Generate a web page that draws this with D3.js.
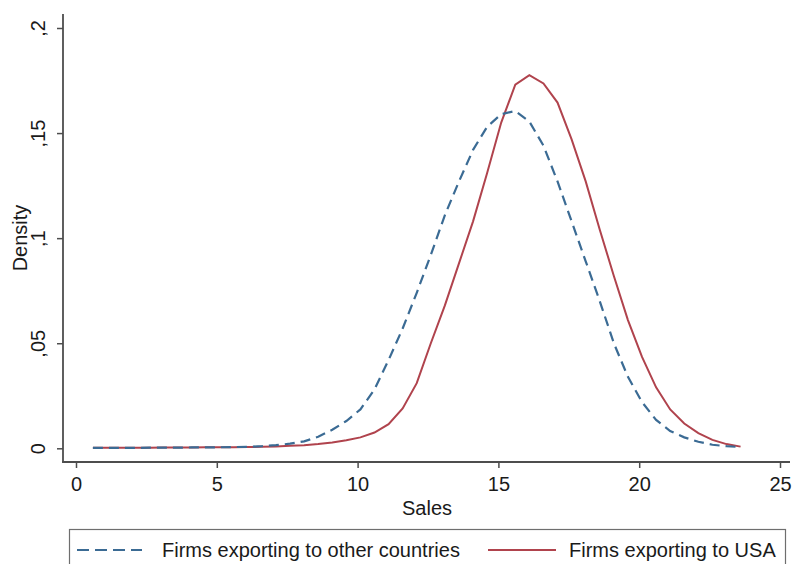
<!DOCTYPE html>
<html>
<head>
<meta charset="utf-8">
<script src="https://cdn.jsdelivr.net/npm/d3@7"></script>
<style>
  body { margin: 0; background: #fff; }
  svg { display: block; font-family: "Liberation Sans", Arial, sans-serif; }
</style>
</head>
<body>
<script>
// kernel density grid (sales) and the two estimated densities
var sales = [0.6, 1.1, 1.6, 2.1, 2.6, 3.1, 3.6, 4.1, 4.6, 5.1, 5.6, 6.1, 6.6, 7.1, 7.6, 8.1,
  8.6, 9.1, 9.6, 10.1, 10.6, 11.1, 11.6, 12.1, 12.6, 13.1, 13.6, 14.1, 14.6, 15.1, 15.6, 16.1,
  16.6, 17.1, 17.6, 18.1, 18.6, 19.1, 19.6, 20.1, 20.6, 21.1, 21.6, 22.1, 22.6, 23.1, 23.6];

var otherCountries = [0.0002, 0.0002, 0.0002, 0.0002, 0.0003, 0.0003, 0.0003, 0.0004, 0.0004, 0.0005,
  0.0006, 0.0007, 0.0010, 0.0015, 0.0022, 0.0033, 0.0055, 0.0088, 0.0130, 0.0185, 0.0280, 0.0420,
  0.0570, 0.0740, 0.0920, 0.1110, 0.1270, 0.1420, 0.1530, 0.1590, 0.1605, 0.1555, 0.1440, 0.1270,
  0.1080, 0.0890, 0.0700, 0.0500, 0.0340, 0.0220, 0.0135, 0.0082, 0.0052, 0.0031, 0.0017, 0.0010, 0.0006];

var usa = [0.0003, 0.0003, 0.0003, 0.0003, 0.0003, 0.0004, 0.0004, 0.0004, 0.0005, 0.0005,
  0.0005, 0.0006, 0.0007, 0.0009, 0.0012, 0.0015, 0.0020, 0.0028, 0.0038, 0.0052, 0.0075, 0.0115,
  0.0190, 0.0310, 0.0500, 0.0680, 0.0880, 0.1080, 0.1310, 0.1550, 0.1730, 0.1776, 0.1736, 0.1645,
  0.1470, 0.1270, 0.1040, 0.0820, 0.0610, 0.0435, 0.0290, 0.0185, 0.0118, 0.0072, 0.0040, 0.0020, 0.0008];

var xTicks = [0, 5, 10, 15, 20, 25];
var yTicks = [0, 0.05, 0.1, 0.15, 0.2];
var yTickLabels = ["0", ",05", ",1", ",15", ",2"];

var seriesNames = ["Firms exporting to other countries", "Firms exporting to USA"];

var W = 792, H = 564;
var axisX = 63, axisY = 462;

var x = d3.scaleLinear().domain([0, 25]).range([76, 780]);
var y = d3.scaleLinear().domain([0, 0.2]).range([448.3, 28]);

var svg = d3.select("body").append("svg")
    .attr("width", W)
    .attr("height", H);

var axisColor = "#4d4d4d";
var blue = "#3b6b94", red = "#b0434d";

// x axis
var xg = svg.append("g")
    .attr("transform", "translate(0," + axisY + ")")
    .call(d3.axisBottom(x).tickValues(xTicks).tickSize(6).tickSizeOuter(0).tickPadding(8));
xg.select(".domain").remove();
xg.selectAll(".tick line").attr("stroke", axisColor).attr("stroke-width", 1.5);
xg.selectAll(".tick text")
    .attr("font-size", 20)
    .attr("fill", "#1a1a1a")
    .attr("dy", 0)
    .attr("y", 29);

// y axis
var yg = svg.append("g")
    .attr("transform", "translate(" + axisX + ",0)")
    .call(d3.axisLeft(y).tickValues(yTicks).tickSize(6).tickSizeOuter(0)
      .tickFormat(function(d, i) { return yTickLabels[i]; }));
yg.select(".domain").remove();
yg.selectAll(".tick line").attr("stroke", axisColor).attr("stroke-width", 1.5);
yg.selectAll(".tick text")
    .attr("font-size", 20)
    .attr("fill", "#1a1a1a")
    .attr("transform", "rotate(-90)")
    .attr("x", 0)
    .attr("y", -18)
    .attr("dy", 0)
    .attr("text-anchor", "middle");

// axis lines
svg.append("line")
    .attr("x1", axisX).attr("x2", axisX)
    .attr("y1", 14).attr("y2", axisY + 0.75)
    .attr("stroke", axisColor).attr("stroke-width", 1.8);
svg.append("line")
    .attr("x1", axisX - 0.9).attr("x2", 790)
    .attr("y1", axisY).attr("y2", axisY)
    .attr("stroke", axisColor).attr("stroke-width", 1.8);

// axis titles
svg.append("text")
    .attr("x", 427).attr("y", 515)
    .attr("text-anchor", "middle")
    .attr("font-size", 20)
    .attr("fill", "#1a1a1a")
    .text("Sales");
svg.append("text")
    .attr("transform", "translate(27,238) rotate(-90)")
    .attr("text-anchor", "middle")
    .attr("font-size", 20)
    .attr("fill", "#1a1a1a")
    .text("Density");

// curves
var line = d3.line()
    .x(function(d) { return x(d[0]); })
    .y(function(d) { return y(d[1]); });

svg.append("path")
    .datum(d3.zip(sales, usa))
    .attr("d", line)
    .attr("fill", "none")
    .attr("stroke", red)
    .attr("stroke-width", 2);

svg.append("path")
    .datum(d3.zip(sales, otherCountries))
    .attr("d", line)
    .attr("fill", "none")
    .attr("stroke", blue)
    .attr("stroke-width", 2.2)
    .attr("stroke-dasharray", "10,6");

// legend
var lg = svg.append("g");
lg.append("rect")
    .attr("x", 69.5).attr("y", 529.5)
    .attr("width", 716).attr("height", 50)
    .attr("fill", "#fff")
    .attr("stroke", "#6e6e6e")
    .attr("stroke-width", 1.2);

var legendItems = [
  {name: seriesNames[0], color: blue, dash: "12,6", x1: 77, x2: 142, tx: 162},
  {name: seriesNames[1], color: red, dash: null, x1: 488, x2: 556, tx: 569}
];
legendItems.forEach(function(it) {
  lg.append("line")
      .attr("x1", it.x1).attr("x2", it.x2)
      .attr("y1", 550).attr("y2", 550)
      .attr("stroke", it.color)
      .attr("stroke-width", 2.2)
      .attr("stroke-dasharray", it.dash);
  lg.append("text")
      .attr("x", it.tx).attr("y", 557)
      .attr("font-size", 20)
      .attr("fill", "#1a1a1a")
      .text(it.name);
});
</script>
</body>
</html>
